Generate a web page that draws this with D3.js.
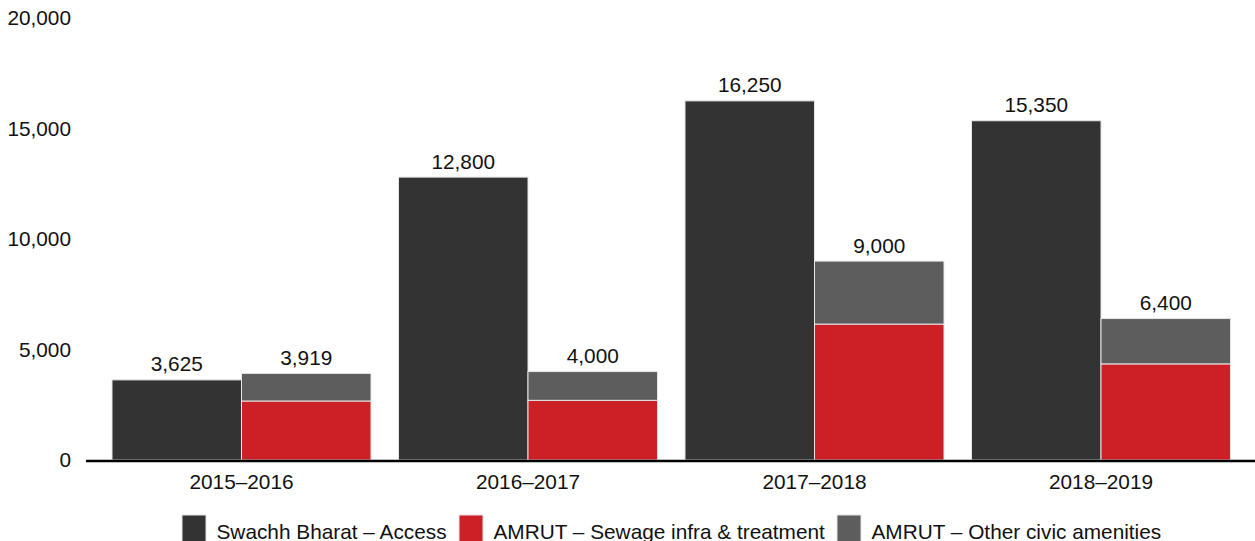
<!DOCTYPE html>
<html>
<head>
<meta charset="utf-8">
<script src="https://cdn.jsdelivr.net/npm/d3@7"></script>
<style>
  html, body { margin: 0; padding: 0; background: #fff; }
  svg { display: block; font-family: "Liberation Sans", Arial, sans-serif; }
</style>
</head>
<body>
<svg id="chart" width="1255" height="541"></svg>
<script>
const categories = ["2015\u20132016", "2016\u20132017", "2017\u20132018", "2018\u20132019"];
const swachhAccess = [3625, 12800, 16250, 15350];
const amrutSewage = [2670, 2700, 6150, 4350];
const amrutTotal = [3919, 4000, 9000, 6400];
const yTicks = [0, 5000, 10000, 15000, 20000];
const seriesNames = ["Swachh Bharat \u2013 Access", "AMRUT \u2013 Sewage infra & treatment", "AMRUT \u2013 Other civic amenities"];
const seriesColors = ["#323332", "#cc2027", "#5d5d5d"];

const svg = d3.select("#chart");
const fmt = d3.format(",");
const fs = 20.8;
const txt = "#111";

const y = d3.scaleLinear().domain([0, 20000]).range([460, 18]);
const x0 = d3.scaleBand().domain(categories).range([98.25, 1244.25])
  .paddingInner(0.096).paddingOuter(0.048);
const x1 = d3.scaleBand().domain(["swachh", "amrut"]).range([0, x0.bandwidth()]).padding(0);

// y tick labels
svg.append("g").selectAll("text").data(yTicks).join("text")
  .attr("x", 71).attr("y", d => y(d)).attr("dy", "0.34em")
  .attr("text-anchor", "end").attr("font-size", fs).attr("fill", txt)
  .text(d => fmt(d));

const groups = svg.append("g").selectAll("g").data(categories).join("g")
  .attr("transform", d => `translate(${x0(d)},0)`);

const stroke = "#e6e6e6";
// Swachh bars
groups.append("rect")
  .attr("x", x1("swachh")).attr("width", x1.bandwidth())
  .attr("y", (d, i) => y(swachhAccess[i]))
  .attr("height", (d, i) => y(0) - y(swachhAccess[i]))
  .attr("fill", seriesColors[0]).attr("stroke", stroke).attr("stroke-width", 1);
// AMRUT sewage
groups.append("rect")
  .attr("x", x1("amrut")).attr("width", x1.bandwidth())
  .attr("y", (d, i) => y(amrutSewage[i]))
  .attr("height", (d, i) => y(0) - y(amrutSewage[i]))
  .attr("fill", seriesColors[1]).attr("stroke", stroke).attr("stroke-width", 1);
// AMRUT other
groups.append("rect")
  .attr("x", x1("amrut")).attr("width", x1.bandwidth())
  .attr("y", (d, i) => y(amrutTotal[i]))
  .attr("height", (d, i) => y(amrutSewage[i]) - y(amrutTotal[i]))
  .attr("fill", seriesColors[2]).attr("stroke", stroke).attr("stroke-width", 1);

// value labels
groups.append("text")
  .attr("x", x1("swachh") + x1.bandwidth() / 2)
  .attr("y", (d, i) => y(swachhAccess[i]) - 8.5)
  .attr("text-anchor", "middle").attr("font-size", fs).attr("fill", txt)
  .text((d, i) => fmt(swachhAccess[i]));
groups.append("text")
  .attr("x", x1("amrut") + x1.bandwidth() / 2)
  .attr("y", (d, i) => y(amrutTotal[i]) - 8.5)
  .attr("text-anchor", "middle").attr("font-size", fs).attr("fill", txt)
  .text((d, i) => fmt(amrutTotal[i]));

// baseline axis
svg.append("line").attr("x1", 86).attr("x2", 1255).attr("y1", y(0) + 1).attr("y2", y(0) + 1)
  .attr("stroke", "#000").attr("stroke-width", 2.5);

// x labels
svg.append("g").selectAll("text").data(categories).join("text")
  .attr("x", d => x0(d) + x0.bandwidth() / 2).attr("y", 489)
  .attr("text-anchor", "middle").attr("font-size", fs).attr("fill", txt)
  .text(d => d);

// legend
const legendX = [182, 459, 837];
const legend = svg.append("g").selectAll("g").data(seriesNames).join("g")
  .attr("transform", (d, i) => `translate(${legendX[i]},515)`);
legend.append("rect").attr("width", 24).attr("height", 30)
  .attr("fill", (d, i) => seriesColors[i]).attr("stroke", stroke).attr("stroke-width", 1);
legend.append("text").attr("x", 34.5).attr("y", 23.5)
  .attr("font-size", fs).attr("fill", txt).text(d => d);
</script>
</body>
</html>
